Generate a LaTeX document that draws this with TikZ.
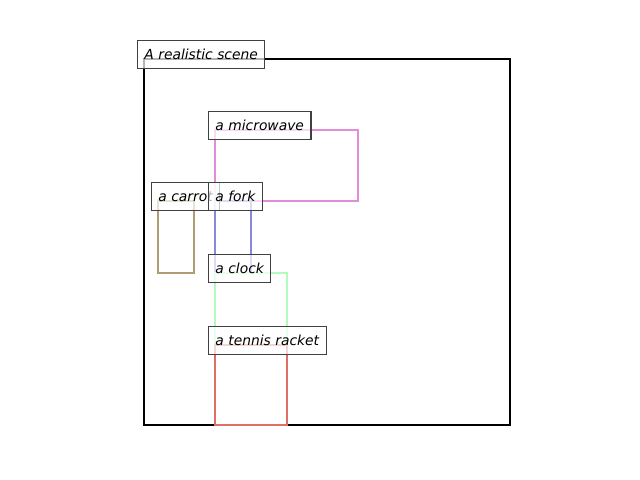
\documentclass[tikz,border=0pt]{standalone}
\usepackage{fontspec}
\setmainfont{DejaVu Sans}
\begin{document}
\begin{tikzpicture}[x=0.01in,y=-0.01in,
  region/.style={line width=1.8pt},
  tag/.style={anchor=base west, fill=white, fill opacity=0.7, text opacity=1,
    draw=black!75, draw opacity=1, line width=0.75pt, inner xsep=5.04pt, inner ysep=5pt,
    text height=9.4pt, text depth=0.9pt, font=\fontsize{10pt}{12pt}\selectfont\itshape}]
\useasboundingbox (0,0) rectangle (640,480);
\definecolor{cmicro}{RGB}{228,140,218}
\definecolor{cfork}{RGB}{138,136,222}
\definecolor{ccarrot}{RGB}{176,156,116}
\definecolor{cclock}{RGB}{178,250,190}
\definecolor{cracket}{RGB}{220,112,100}
% scene frame and object regions
\draw[region, black] (144,59) rectangle (510,425);
\draw[region, cmicro] (215,130) rectangle (358,201);
\draw[region, ccarrot] (158,201) rectangle (194,273);
\draw[region, cfork] (215,201) rectangle (251,273);
\draw[region, cclock] (215,273) rectangle (287,425);
\draw[region, cracket] (215,345) rectangle (287,425);
% captions
\node[tag] (scene) at (137,60) {A realistic scene};
\node[tag] (micro) at (208,131) {a microwave};
\node[tag] (carrot) at (151,202) {a carrot};
\node[tag] (fork) at (208,202) {a fork};
\node[tag] (clock) at (208,274) {a clock};
\node[tag] (racket) at (208,346) {a tennis racket};
\end{tikzpicture}
\end{document}
